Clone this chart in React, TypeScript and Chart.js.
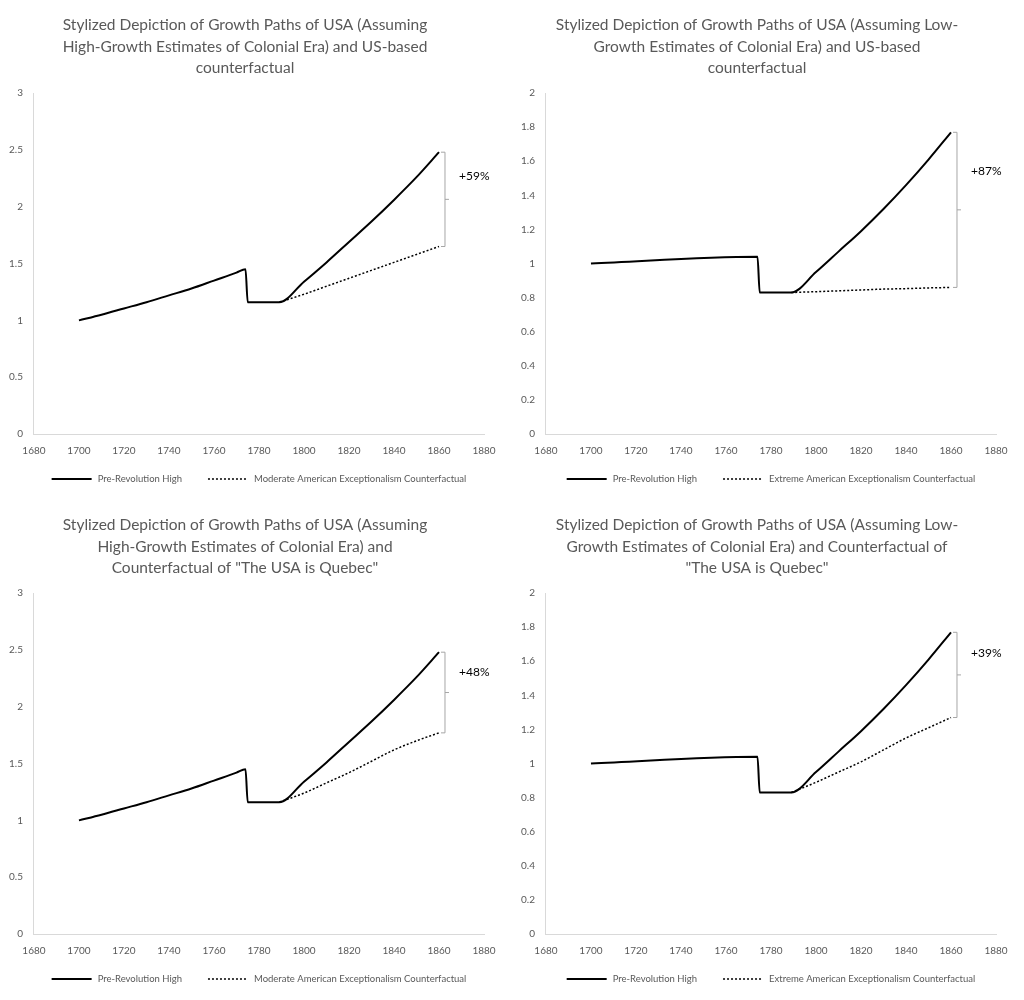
import React, { useEffect, useRef } from "react";
import { Chart, registerables } from "chart.js";
Chart.register(...registerables);

const highYears = [1700, 1710, 1720, 1730, 1740, 1750, 1760, 1770, 1774, 1775, 1789, 1800, 1810, 1820, 1830, 1840, 1850, 1860];
const highValues = [1.0, 1.05, 1.105, 1.16, 1.22, 1.28, 1.35, 1.42, 1.45, 1.16, 1.16, 1.34, 1.51, 1.69, 1.87, 2.06, 2.26, 2.48];
const lowYears = [1700, 1774, 1775, 1789, 1800, 1810, 1820, 1830, 1840, 1850, 1860];
const lowValues = [1.0, 1.04, 0.83, 0.83, 0.95, 1.07, 1.19, 1.32, 1.46, 1.61, 1.77];
const cfYears = [1789, 1800, 1810, 1820, 1830, 1840, 1850, 1860];
const cfModerateUS = [1.16, 1.23, 1.3, 1.37, 1.44, 1.51, 1.58, 1.65];
const cfExtremeUS = [0.83, 0.835, 0.84, 0.845, 0.85, 0.853, 0.857, 0.86];
const cfModerateQuebec = [1.16, 1.24, 1.33, 1.42, 1.52, 1.62, 1.7, 1.77];
const cfExtremeQuebec = [0.83, 0.89, 0.95, 1.01, 1.08, 1.15, 1.21, 1.27];
const titles = [
  ["Stylized Depiction of Growth Paths of USA (Assuming", "High-Growth Estimates of Colonial Era) and US-based", "counterfactual"],
  ["Stylized Depiction of Growth Paths of USA (Assuming Low-", "Growth Estimates of Colonial Era) and US-based", "counterfactual"],
  ["Stylized Depiction of Growth Paths of USA (Assuming", "High-Growth Estimates of Colonial Era) and", "Counterfactual of \"The USA is Quebec\""],
  ["Stylized Depiction of Growth Paths of USA (Assuming Low-", "Growth Estimates of Colonial Era) and Counterfactual of", "\"The USA is Quebec\""],
];
const annotationLabels = ["+59%", "+87%", "+48%", "+39%"];
const mainLabel = "Pre-Revolution High";
const cfLabels = ["Moderate American Exceptionalism Counterfactual", "Extreme American Exceptionalism Counterfactual", "Moderate American Exceptionalism Counterfactual", "Extreme American Exceptionalism Counterfactual"];

const panels = [
  { years: highYears, values: highValues, cf: cfModerateUS, yMax: 3, step: 0.5 },
  { years: lowYears, values: lowValues, cf: cfExtremeUS, yMax: 2, step: 0.2 },
  { years: highYears, values: highValues, cf: cfModerateQuebec, yMax: 3, step: 0.5 },
  { years: lowYears, values: lowValues, cf: cfExtremeQuebec, yMax: 2, step: 0.2 },
];

const FONT = "Lato, 'Open Sans', sans-serif";
const GREY = "#595959";

function Panel({ i }: { i: number }) {
  const ref = useRef<HTMLCanvasElement>(null);
  useEffect(() => {
    const p = panels[i];
    const bracket = {
      id: "bracket",
      afterDatasetsDraw(chart: any) {
        const xs = chart.scales.x, ys = chart.scales.y;
        const lastYear = p.years[p.years.length - 1];
        const x = xs.getPixelForValue(lastYear) + 6;
        const top = ys.getPixelForValue(p.values[p.values.length - 1]);
        const bot = ys.getPixelForValue(p.cf[p.cf.length - 1]);
        const mid = (top + bot) / 2;
        const ctx = chart.ctx;
        ctx.save();
        ctx.strokeStyle = "#a6a6a6";
        ctx.lineWidth = 1;
        ctx.beginPath();
        ctx.moveTo(x - 4, top); ctx.lineTo(x, top); ctx.lineTo(x, bot); ctx.lineTo(x - 4, bot);
        ctx.moveTo(x, mid); ctx.lineTo(x + 4, mid);
        ctx.stroke();
        ctx.fillStyle = "#000";
        ctx.font = `12px ${FONT}`;
        ctx.textBaseline = "middle";
        ctx.fillText(annotationLabels[i], x + 14, (top + mid) / 2);
        ctx.restore();
      },
      afterDraw(chart: any) {
        const ctx = chart.ctx;
        const y = chart.height - 21;
        const items = [
          { label: mainLabel, dash: [] as number[], w: 2 },
          { label: cfLabels[i], dash: [2, 2], w: 1.5 },
        ];
        ctx.save();
        ctx.font = `9.5px ${FONT}`;
        const widths = items.map((it) => 40 + 6 + ctx.measureText(it.label).width);
        const gap = 26;
        const total = widths[0] + widths[1] + gap;
        let x = (chart.chartArea.left + chart.chartArea.right) / 2 - total / 2;
        items.forEach((it, k) => {
          ctx.strokeStyle = "#000";
          ctx.lineWidth = it.w;
          ctx.setLineDash(it.dash);
          ctx.beginPath();
          ctx.moveTo(x, y); ctx.lineTo(x + 40, y);
          ctx.stroke();
          ctx.setLineDash([]);
          ctx.fillStyle = GREY;
          ctx.textBaseline = "middle";
          ctx.fillText(it.label, x + 46, y);
          x += widths[k] + gap;
        });
        ctx.restore();
      },
    };
    const chart = new Chart(ref.current!, {
      type: "line",
      data: {
        datasets: [
          { label: mainLabel, data: p.years.map((y, k) => ({ x: y, y: p.values[k] })), borderColor: "#000", borderWidth: 2, pointRadius: 0, cubicInterpolationMode: "monotone" },
          { label: cfLabels[i], data: cfYears.map((y, k) => ({ x: y, y: p.cf[k] })), borderColor: "#000", borderWidth: 1.5, borderDash: [2, 2], pointRadius: 0, cubicInterpolationMode: "monotone" },
        ],
      },
      plugins: [bracket],
      options: {
        animation: false,
        responsive: false,
        layout: { padding: { left: 6, right: 28, top: 8, bottom: 40 } },
        plugins: {
          title: { display: true, text: titles[i], color: GREY, font: { family: FONT, size: 15.5, weight: "normal", lineHeight: 1.4 }, padding: { top: 6, bottom: 14 } },
          legend: { display: false },
          tooltip: { enabled: false },
        },
        scales: {
          x: {
            type: "linear", min: 1680, max: 1880,
            ticks: { stepSize: 20, color: GREY, font: { family: FONT, size: 10 }, callback: (v: any) => String(v) },
            grid: { display: false },
            border: { color: "#d9d9d9" },
          },
          y: {
            min: 0, max: p.yMax,
            ticks: { stepSize: p.step, color: GREY, font: { family: FONT, size: 10 }, callback: (v: any) => String(Math.round(v * 10) / 10) },
            grid: { display: false },
            border: { color: "#d9d9d9" },
          },
        },
      },
    });
    return () => chart.destroy();
  }, [i]);
  return <canvas ref={ref} width={512} height={500} style={{ display: "block" }} />;
}

export default function App() {
  useEffect(() => { document.body.style.margin = "0"; }, []);
  return (
    <div style={{ display: "grid", gridTemplateColumns: "512px 512px", width: 1024, background: "#fff" }}>
      {[0, 1, 2, 3].map((i) => <Panel key={i} i={i} />)}
    </div>
  );
}
